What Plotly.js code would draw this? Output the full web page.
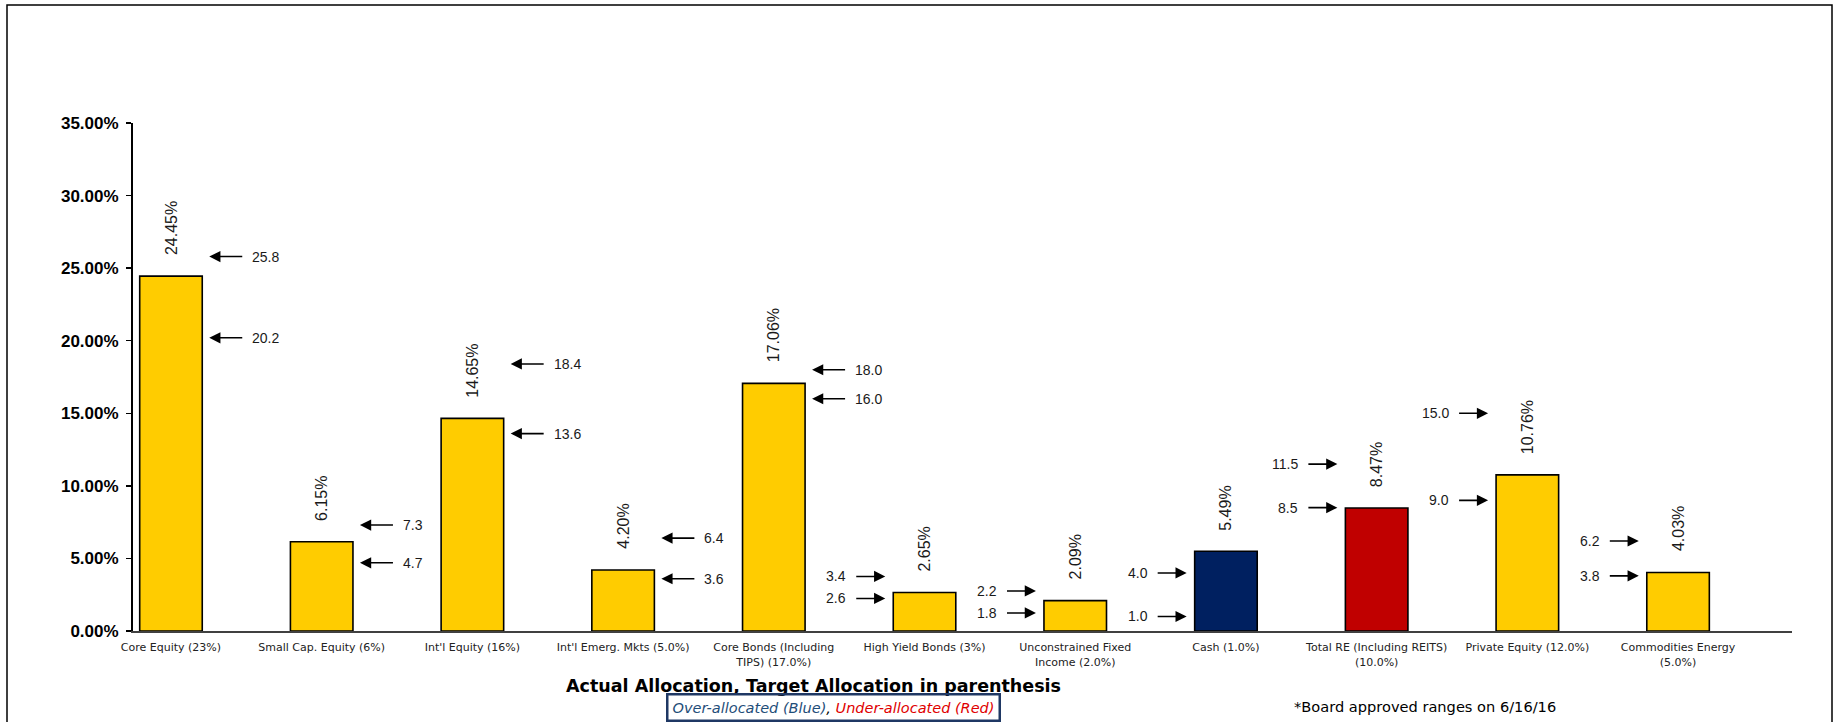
<!DOCTYPE html>
<html>
<head>
<meta charset="utf-8">
<script src="https://cdn.plot.ly/plotly-3.0.1.min.js"></script>
<style>
  html, body { margin: 0; padding: 0; background: #ffffff; }
  #chart { width: 1837px; height: 722px; }
</style>
</head>
<body>
<div id="chart"></div>
<script>
// Asset classes, target allocation in parentheses
const categories = [
  'Core Equity (23%)',
  'Small Cap. Equity (6%)',
  "Int'l Equity (16%)",
  "Int'l Emerg. Mkts (5.0%)",
  'Core Bonds (Including<br>TIPS) (17.0%)',
  'High Yield Bonds (3%)',
  'Unconstrained Fixed<br>Income (2.0%)',
  'Cash (1.0%)',
  'Total RE (Including REITS)<br>(10.0%)',
  'Private Equity (12.0%)',
  'Commodities Energy<br>(5.0%)'
];

// Actual allocation, % of portfolio
const actual = [24.45, 6.15, 14.65, 4.20, 17.06, 2.65, 2.09, 5.49, 8.47, 10.76, 4.03];

// Board approved ranges (upper / lower bound, %)
const rangeHigh = [25.8, 7.3, 18.4, 6.4, 18.0, 3.4, 2.2, 4.0, 11.5, 15.0, 6.2];
const rangeLow  = [20.2, 4.7, 13.6, 3.6, 16.0, 2.6, 1.8, 1.0, 8.5, 9.0, 3.8];

const yTicks = [0, 5, 10, 15, 20, 25, 30, 35];
const yTickText = yTicks.map(v => v.toFixed(2) + '%');

// ---- layout constants ----
const W = 1837, H = 722;
const M = { l: 133, r: 45, t: 123, b: 91 };
const PW = W - M.l - M.r, PH = H - M.t - M.b;
const Y_MAX = 35;
const BAR_W = 0.415;
const FLIP_FROM = 5;           // from this category on, range arrows sit left of the bar
const MIN_SEP = 22;            // min. px between the two range labels of one bar
const COLORS = { within: '#FFCC00', over: '#002060', under: '#C00000' };
const INK = '#1a1a1a';
const ARIAL = 'Liberation Sans, Arial, sans-serif';
const VERDANA = 'DejaVu Sans, Verdana, sans-serif';

// pixel -> paper helpers for the free-floating texts and frame
const pxX = p => (p - M.l) / PW;
const pxY = p => (H - M.b - p) / PH;

const xs = categories.map((_, i) => i);
const barColors = actual.map((v, i) =>
  v > rangeHigh[i] ? COLORS.over : (v < rangeLow[i] ? COLORS.under : COLORS.within));

const bars = {
  type: 'bar',
  x: xs,
  y: actual,
  width: BAR_W,
  marker: { color: barColors, line: { color: '#000000', width: 1.6 } },
  hoverinfo: 'skip',
  showlegend: false
};

const annotations = [];

// rotated value labels above each bar
actual.forEach((v, i) => {
  annotations.push({
    x: i, y: v, xref: 'x', yref: 'y',
    text: v.toFixed(2) + '%',
    textangle: -90,
    showarrow: false,
    xanchor: 'center', yanchor: 'bottom',
    yshift: 19,
    font: { family: ARIAL, size: 16, color: INK }
  });
});

// board range arrows; pairs that sit too close are pushed apart
function rangeArrow(i, val, nudge) {
  const leftSide = i >= FLIP_FROM;
  return {
    x: leftSide ? i - BAR_W / 2 : i + BAR_W / 2,
    y: val, xref: 'x', yref: 'y',
    xshift: leftSide ? -8 : 7,
    yshift: nudge,
    text: val.toFixed(1),
    showarrow: true,
    arrowhead: 2, arrowsize: 1.4, arrowwidth: 1.6, arrowcolor: '#000000',
    ax: leftSide ? -37 : 41, ay: 0,
    startstandoff: 8,
    xanchor: leftSide ? 'right' : 'left', yanchor: 'middle',
    font: { family: ARIAL, size: 14, color: INK }
  };
}
categories.forEach((_, i) => {
  const gap = (rangeHigh[i] - rangeLow[i]) * PH / Y_MAX;
  const push = gap < MIN_SEP ? (MIN_SEP - gap) / 2 : 0;
  annotations.push(rangeArrow(i, rangeHigh[i], push));
  annotations.push(rangeArrow(i, rangeLow[i], -push));
});

// axis caption, colour key and footnote
annotations.push({
  xref: 'paper', yref: 'paper', x: pxX(813), y: pxY(686),
  xanchor: 'center', yanchor: 'middle', showarrow: false,
  text: '<b>Actual Allocation, Target Allocation in parenthesis</b>',
  font: { family: VERDANA, size: 17.5, color: '#000000' }
});
annotations.push({
  xref: 'paper', yref: 'paper', x: pxX(833), y: pxY(707),
  xanchor: 'center', yanchor: 'middle', showarrow: false,
  text: "<i><span style='color:#1F4E79'>Over-allocated (Blue)</span>, " +
        "<span style='color:#E00000'>Under-allocated (Red)</span></i>",
  bordercolor: '#1F3864', borderwidth: 2.5, borderpad: 4,
  font: { family: VERDANA, size: 14.5, color: '#000000' }
});
annotations.push({
  xref: 'paper', yref: 'paper', x: pxX(1292), y: pxY(706),
  xanchor: 'left', yanchor: 'middle', showarrow: false,
  text: '*Board approved ranges on 6/16/16',
  font: { family: VERDANA, size: 14.6, color: '#000000' }
});

const layout = {
  width: W, height: H, autosize: false,
  margin: { l: M.l, r: M.r, t: M.t, b: M.b, pad: 0 },
  paper_bgcolor: '#ffffff', plot_bgcolor: '#ffffff',
  showlegend: false,
  xaxis: {
    range: [-0.252, 10.756],
    tickmode: 'array', tickvals: xs, ticktext: categories,
    ticks: '', showgrid: false, zeroline: false,
    showline: true, linecolor: '#404040', linewidth: 2,
    ticklabelstandoff: 5,
    tickangle: 0,
    tickfont: { family: VERDANA, size: 11, color: '#222222' }
  },
  yaxis: {
    range: [0, Y_MAX],
    tickmode: 'array', tickvals: yTicks, ticktext: yTickText,
    ticks: 'outside', ticklen: 5, tickwidth: 1.5, tickcolor: '#000000',
    showgrid: false, zeroline: false,
    showline: true, linecolor: '#000000', linewidth: 2,
    ticklabelstandoff: 4,
    tickfont: { family: ARIAL, size: 17, color: '#000000', weight: 'bold' }
  },
  annotations: annotations,
  shapes: [{
    type: 'rect', xref: 'paper', yref: 'paper',
    x0: pxX(7), x1: pxX(1832), y0: pxY(740), y1: pxY(5),
    line: { color: '#000000', width: 1.5 },
    fillcolor: 'rgba(0,0,0,0)', layer: 'above'
  }]
};

Plotly.newPlot('chart', [bars], layout, { displayModeBar: false, staticPlot: true });
</script>
</body>
</html>
